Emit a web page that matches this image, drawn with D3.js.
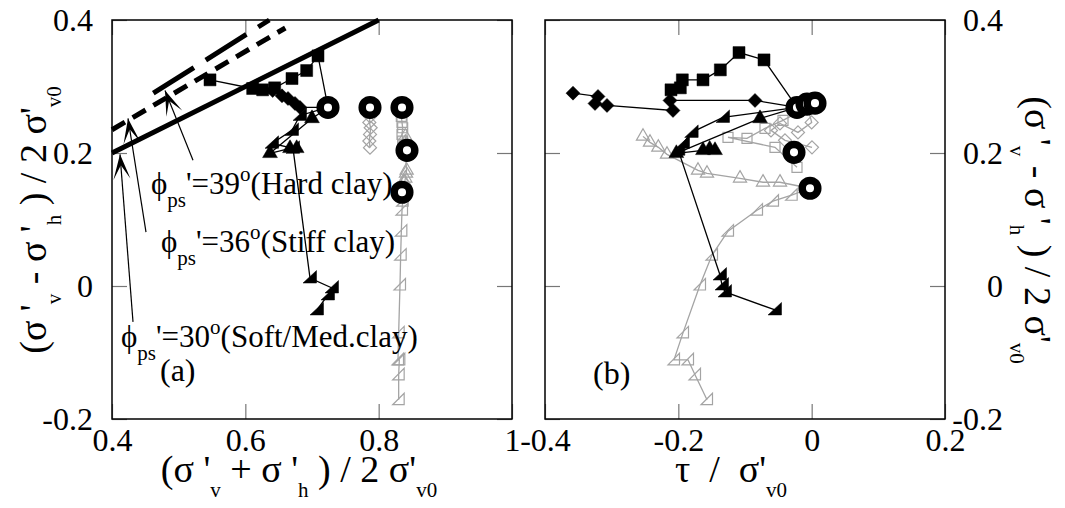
<!DOCTYPE html>
<html>
<head>
<meta charset="utf-8">
<script src="https://cdn.jsdelivr.net/npm/d3@7"></script>
<style>
  body { margin: 0; background: #fff; }
</style>
</head>
<body>
<svg id="chart" width="1065" height="508"></svg>
<script>
// tick values
var xTicksA = [0.4, 0.6, 0.8, 1];
var xTicksB = [-0.4, -0.2, 0, 0.2];
var yTicks = [-0.2, 0, 0.2, 0.4];

// failure lines, panel (a): [p', q]
var phi30Line = [[0.4, 0.2], [0.8, 0.4]];
var phi36Line = [[0.4, 0.235], [0.66, 0.388]];
var phi39Line = [[0.462, 0.29], [0.636, 0.4]];

// panel (a): x = (s'v + s'h)/2s'v0, y = (s'v - s'h)/2s'v0  (first point = start circle)
var aCircles = [[0.724, 0.2685], [0.787, 0.2685], [0.835, 0.2685], [0.8425, 0.204], [0.835, 0.141]];
var aSquares = [[0.724, 0.2685], [0.709, 0.346], [0.692, 0.324], [0.670, 0.312], [0.644, 0.298], [0.626, 0.295], [0.611, 0.297], [0.547, 0.310]];
var aDiamonds = [[0.724, 0.2685], [0.682, 0.2685], [0.6745, 0.2745], [0.664, 0.282], [0.655, 0.286], [0.641, 0.294]];
var aTriangles = [[0.724, 0.2685], [0.700, 0.252], [0.637, 0.1995], [0.667, 0.207], [0.677, 0.207]];
var aWedges = [[0.724, 0.2685], [0.682, 0.2565], [0.670, 0.234], [0.640, 0.2145], [0.6715, 0.207], [0.697, 0.012], [0.73, -0.003], [0.724, -0.0135], [0.7075, -0.036]];
var aGrayDiamonds = [[0.787, 0.2685], [0.787, 0.255], [0.786, 0.246], [0.788, 0.238], [0.787, 0.228], [0.786, 0.218], [0.787, 0.208]];
var aGraySquares = [[0.835, 0.2685], [0.834, 0.255], [0.835, 0.246], [0.836, 0.238], [0.835, 0.228], [0.836, 0.218], [0.838, 0.21]];
var aGrayTriangles = [[0.835, 0.141], [0.838, 0.156], [0.839, 0.156], [0.84, 0.162], [0.841, 0.1695], [0.842, 0.174], [0.84, 0.198], [0.841, 0.2085], [0.84, 0.216], [0.84, 0.225]];
var aGrayWedges = [[0.835, 0.141], [0.836, 0.1365], [0.836, 0.1275], [0.835, 0.114], [0.834, 0.0825], [0.833, 0.0465], [0.832, 0.0015], [0.83, -0.0705], [0.829, -0.111], [0.831, -0.111], [0.83, -0.1335], [0.83, -0.171]];

// panel (b): x = tau/s'v0, same y
var bCircles = [[-0.022, 0.2685], [-0.007, 0.2735], [0.005, 0.275], [-0.0265, 0.201], [-0.0025, 0.147]];
var bSquares = [[-0.022, 0.2685], [-0.0715, 0.340], [-0.109, 0.351], [-0.137, 0.325], [-0.163, 0.310], [-0.194, 0.310], [-0.197, 0.298], [-0.211, 0.295]];
var bDiamonds = [[-0.022, 0.2685], [-0.085, 0.279], [-0.2125, 0.279], [-0.208, 0.264], [-0.307, 0.2715], [-0.325, 0.2745], [-0.3205, 0.285], [-0.358, 0.290]];
var bTriangles = [[-0.022, 0.2685], [-0.0775, 0.252], [-0.203, 0.1995], [-0.163, 0.204], [-0.153, 0.206], [-0.145, 0.204]];
var bWedges = [[-0.022, 0.2685], [-0.133, 0.2535], [-0.18, 0.231], [-0.193, 0.2145], [-0.2, 0.204], [-0.1375, 0.0165], [-0.1345, 0.0015], [-0.13, -0.009], [-0.055, -0.036]];
var bGrayDiamonds = [[-0.007, 0.2735], [0.0, 0.246], [-0.0205, 0.231], [-0.0475, 0.2445], [-0.061, 0.234], [-0.04, 0.219], [0.0005, 0.2085]];
var bGraySquares = [[0.005, 0.275], [-0.043, 0.249], [-0.07, 0.237], [-0.097, 0.222], [-0.1255, 0.2235], [-0.055, 0.2085], [-0.022, 0.1785]];
var bGrayTriangles = [[-0.0025, 0.147], [-0.0475, 0.156], [-0.073, 0.156], [-0.1075, 0.162], [-0.157, 0.1695], [-0.1705, 0.174], [-0.217, 0.198], [-0.23, 0.2085], [-0.2425, 0.216], [-0.253, 0.225]];
var bGrayWedges = [[-0.0025, 0.147], [-0.03, 0.1365], [-0.058, 0.1275], [-0.082, 0.114], [-0.1255, 0.0825], [-0.1495, 0.0465], [-0.1675, 0.0015], [-0.193, -0.0705], [-0.2065, -0.111], [-0.1855, -0.111], [-0.175, -0.1335], [-0.157, -0.171]];

// annotation arrows [tail, tip] in panel (a) units
var arrows = [
  [[0.5215, 0.189], [0.4795, 0.294]],
  [[0.451, 0.081], [0.424, 0.252]],
  [[0.4315, -0.054], [0.412, 0.198]]
];

var FONT = "'Liberation Serif', 'Times New Roman', Tinos, 'DejaVu Serif', serif";
var svg = d3.select("#chart");
var plotTop = 20, plotBottom = 419;

var xA = d3.scaleLinear().domain([0.4, 1]).range([112, 512]);
var xB = d3.scaleLinear().domain([-0.4, 0.2]).range([545, 945]);
var y = d3.scaleLinear().domain([-0.2, 0.4]).range([plotBottom, plotTop]);

var grey = "#a4a4a4";

// marker shapes
var shapes = {
  square: "M-6,-6H6V6H-6Z",
  diamond: "M0,-7L7,0L0,7L-7,0Z",
  triangle: d3.symbol(d3.symbolTriangle, 95)(),
  wedge: "M6.5,-7.5L6.5,5L-7,5Z",
  gsquare: "M-5,-5H5V5H-5Z",
  gdiamond: "M0,-6.5L6.5,0L0,6.5L-6.5,0Z",
  gtriangle: d3.symbol(d3.symbolTriangle, 75)(),
  gwedge: "M5.5,-6.5L5.5,5L-6,5Z"
};

function frame(x) {
  var g = svg.append("g");
  var fmt = function(d) { return String(d); };
  var ticks = x === xA ? xTicksA : xTicksB;
  g.append("g").attr("transform", "translate(0," + plotBottom + ")")
    .call(d3.axisBottom(x).tickValues(ticks).tickSize(-15).tickPadding(9).tickFormat(fmt));
  g.append("g").attr("transform", "translate(0," + plotTop + ")")
    .call(d3.axisTop(x).tickValues(ticks).tickSize(-15).tickFormat(""));
  g.append("g").attr("transform", "translate(" + x.range()[0] + ",0)")
    .call(d3.axisLeft(y).tickValues(yTicks).tickSize(-15).tickPadding(19).tickFormat(x === xA ? fmt : ""));
  var r = g.append("g").attr("transform", "translate(" + x.range()[1] + ",0)")
    .call(d3.axisRight(y).tickValues(yTicks).tickSize(-15).tickFormat(x === xB ? fmt : ""));
  r.selectAll("text").attr("x", 58).attr("text-anchor", "end");
  g.selectAll(".domain").remove();
  g.selectAll(".tick line").attr("stroke", "#777").attr("stroke-width", 1.2);
  g.selectAll(".tick text").style("font-family", FONT).style("font-size", "32px").attr("fill", "#000");
  g.append("rect")
    .attr("x", x.range()[0]).attr("y", plotTop)
    .attr("width", x.range()[1] - x.range()[0]).attr("height", plotBottom - plotTop)
    .attr("fill", "none").attr("stroke", "#000").attr("stroke-width", 1.5);
}

frame(xA);
frame(xB);

function series(x, data, shape, color, filled) {
  var line = d3.line().x(function(d) { return x(d[0]); }).y(function(d) { return y(d[1]); });
  svg.append("path").datum(data)
    .attr("fill", "none").attr("stroke", color).attr("stroke-width", 1.3)
    .attr("d", line);
  svg.append("g").selectAll("path").data(data.slice(1)).join("path")
    .attr("transform", function(d) { return "translate(" + x(d[0]) + "," + y(d[1]) + ")"; })
    .attr("d", shapes[shape])
    .attr("fill", filled ? color : "none")
    .attr("stroke", color).attr("stroke-width", filled ? 0.5 : 1.2);
}

// failure lines
var lineA = d3.line().x(function(d) { return xA(d[0]); }).y(function(d) { return y(d[1]); });
svg.append("path").datum(phi30Line).attr("d", lineA)
  .attr("stroke", "#000").attr("stroke-width", 5).attr("fill", "none");
svg.append("path").datum(phi36Line).attr("d", lineA)
  .attr("stroke", "#000").attr("stroke-width", 5).attr("fill", "none").attr("stroke-dasharray", "15,9");
svg.append("path").datum(phi39Line).attr("d", lineA)
  .attr("stroke", "#000").attr("stroke-width", 5).attr("fill", "none").attr("stroke-dasharray", "48,14");

// grey series
series(xA, aGrayDiamonds, "gdiamond", grey, false);
series(xA, aGraySquares, "gsquare", grey, false);
series(xA, aGrayTriangles, "gtriangle", grey, false);
series(xA, aGrayWedges, "gwedge", grey, false);
series(xB, bGrayDiamonds, "gdiamond", grey, false);
series(xB, bGraySquares, "gsquare", grey, false);
series(xB, bGrayTriangles, "gtriangle", grey, false);
series(xB, bGrayWedges, "gwedge", grey, false);

// black series
series(xA, aSquares, "square", "#000", true);
series(xA, aDiamonds, "diamond", "#000", true);
series(xA, aTriangles, "triangle", "#000", true);
series(xA, aWedges, "wedge", "#000", true);
series(xB, bSquares, "square", "#000", true);
series(xB, bDiamonds, "diamond", "#000", true);
series(xB, bTriangles, "triangle", "#000", true);
series(xB, bWedges, "wedge", "#000", true);

// start circles
[[xA, aCircles], [xB, bCircles]].forEach(function(p) {
  svg.append("g").selectAll("circle").data(p[1]).join("circle")
    .attr("cx", function(d) { return p[0](d[0]); })
    .attr("cy", function(d) { return y(d[1]); })
    .attr("r", 7.8).attr("fill", "#fff").attr("stroke", "#000").attr("stroke-width", 7.5);
});

// arrows
arrows.forEach(function(a) {
  var x0 = xA(a[0][0]), y0 = y(a[0][1]), x1 = xA(a[1][0]), y1 = y(a[1][1]);
  svg.append("line").attr("x1", x0).attr("y1", y0).attr("x2", x1).attr("y2", y1)
    .attr("stroke", "#000").attr("stroke-width", 1.2);
  var ang = Math.atan2(y1 - y0, x1 - x0) * 180 / Math.PI + 90;
  svg.append("path").attr("d", "M0,0L-8.5,25L0,11L8.5,25Z")
    .attr("transform", "translate(" + x1 + "," + y1 + ") rotate(" + ang + ")")
    .attr("fill", "#000");
});

// rich text helper: pieces [text, mode] mode: 0 normal, 1 sub, 2 sup
function rich(sel, pieces, size, subSize, shift) {
  sel.style("font-family", FONT).style("white-space", "pre").attr("fill", "#000");
  var cur = 0;
  pieces.forEach(function(p) {
    var target = p[1] === 1 ? shift : (p[1] === 2 ? -shift : 0);
    sel.append("tspan")
      .attr("dy", target - cur)
      .style("font-size", (p[1] ? subSize : size) + "px")
      .text(p[0]);
    cur = target;
  });
}

// annotations
var ann = [
  [151, 194, "39", "(Hard clay)"],
  [161, 252, "36", "(Stiff clay)"],
  [121, 347, "30", "(Soft/Med.clay)"]
];
ann.forEach(function(a) {
  var t = svg.append("text").attr("x", a[0]).attr("y", a[1]);
  rich(t, [["ϕ", 0], ["ps", 1], ["'=" + a[2], 0], ["o", 2], [a[3], 0]], 31, 21, 13);
});
rich(svg.append("text").attr("x", 160).attr("y", 381), [["(a)", 0]], 32, 21, 0);
rich(svg.append("text").attr("x", 593).attr("y", 384), [["(b)", 0]], 32, 21, 0);

// axis titles
var tA = svg.append("text").attr("x", 299).attr("y", 482).attr("text-anchor", "middle");
rich(tA, [["(σ '", 0], ["v", 1], [" + σ '", 0], ["h", 1], [" ) / 2 σ'", 0], ["v0", 1]], 38, 21, 15);
var tB = svg.append("text").attr("x", 731).attr("y", 482).attr("text-anchor", "middle");
rich(tB, [["τ  /  σ'", 0], ["v0", 1]], 38, 21, 15);
var tL = svg.append("text").attr("transform", "translate(46,220) rotate(-90)").attr("text-anchor", "middle");
rich(tL, [["(σ '", 0], ["v", 1], [" - σ '", 0], ["h", 1], [" ) / 2 σ'", 0], ["v0", 1]], 38, 21, 15);
var tR = svg.append("text").attr("transform", "translate(1025,230) rotate(90)").attr("text-anchor", "middle");
rich(tR, [["(σ '", 0], ["v", 1], [" - σ '", 0], ["h", 1], [" ) / 2 σ'", 0], ["v0", 1]], 38, 21, 15);
</script>
</body>
</html>
